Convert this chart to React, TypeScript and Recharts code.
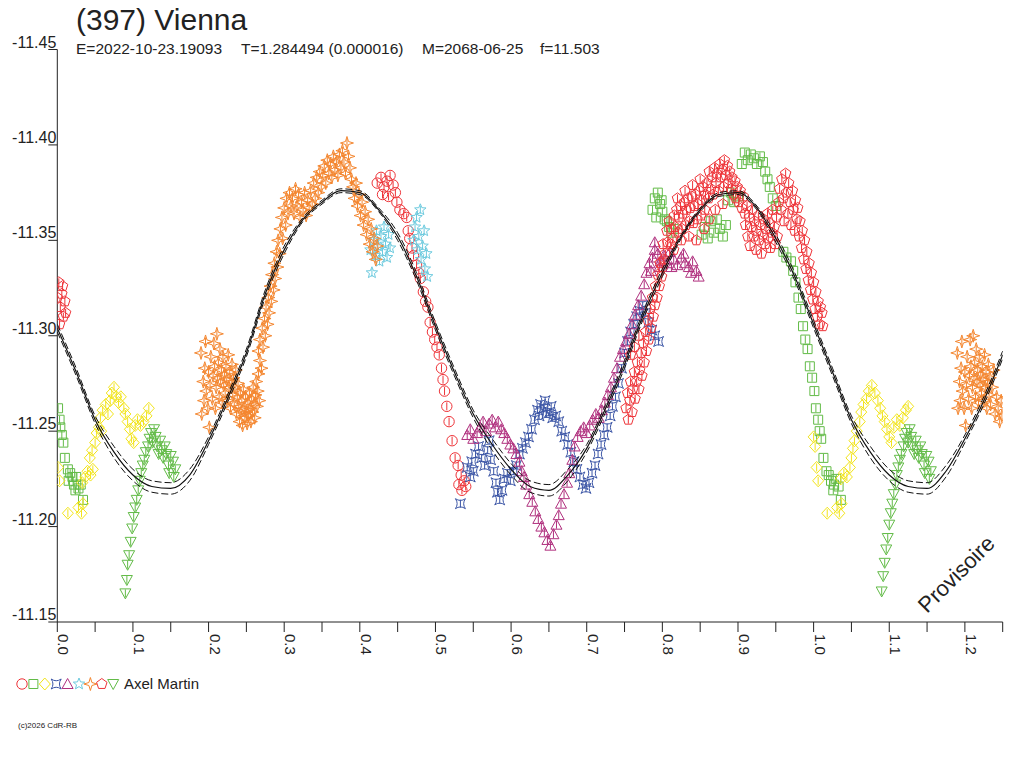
import { ScatterChart, Scatter, XAxis, YAxis } from "recharts";

// phase / reduced magnitude pairs
const redCircle: [number, number][] = [
  [0.423, -11.380], [0.428, -11.383], [0.432, -11.378], [0.436, -11.381], [0.440, -11.384], [0.444, -11.379],
  [0.447, -11.375], [0.430, -11.374], [0.438, -11.373], [0.449, -11.370], [0.453, -11.366], [0.458, -11.364],
  [0.462, -11.362], [0.464, -11.355], [0.466, -11.351], [0.469, -11.346], [0.471, -11.342], [0.475, -11.337],
  [0.478, -11.333], [0.480, -11.330], [0.484, -11.323], [0.487, -11.318], [0.490, -11.315], [0.493, -11.307],
  [0.496, -11.302], [0.499, -11.298], [0.502, -11.294], [0.505, -11.290], [0.508, -11.283], [0.510, -11.277],
  [0.512, -11.271], [0.515, -11.263], [0.518, -11.255], [0.522, -11.245], [0.526, -11.236], [0.530, -11.232],
  [0.534, -11.227], [0.538, -11.224], [0.531, -11.222], [0.540, -11.221], [0.535, -11.219]
];

const greenSquare: [number, number][] = [
  [0.001, -11.262], [0.003, -11.256], [0.004, -11.252], [0.006, -11.248], [0.008, -11.244], [0.010, -11.236],
  [0.014, -11.230], [0.017, -11.228], [0.020, -11.226], [0.015, -11.224], [0.022, -11.222], [0.025, -11.226],
  [0.028, -11.220], [0.024, -11.219], [0.031, -11.222], [0.034, -11.214],
  [0.787, -11.366], [0.790, -11.372], [0.794, -11.375], [0.797, -11.369], [0.800, -11.365], [0.803, -11.361],
  [0.806, -11.360], [0.809, -11.357], [0.812, -11.354], [0.815, -11.356], [0.792, -11.362], [0.799, -11.371],
  [0.852, -11.353], [0.856, -11.357], [0.860, -11.351], [0.864, -11.360], [0.868, -11.354], [0.872, -11.361],
  [0.876, -11.356], [0.880, -11.352], [0.884, -11.358], [0.887, -11.371], [0.891, -11.375], [0.895, -11.370],
  [0.900, -11.373], [0.905, -11.390], [0.909, -11.396], [0.913, -11.392], [0.917, -11.395], [0.921, -11.393],
  [0.925, -11.390], [0.929, -11.394], [0.933, -11.391], [0.936, -11.386], [0.939, -11.382], [0.942, -11.378],
  [0.946, -11.372], [0.950, -11.368], [0.960, -11.344], [0.964, -11.341], [0.970, -11.339], [0.973, -11.334],
  [0.976, -11.328], [0.980, -11.320], [0.983, -11.314], [0.986, -11.305], [0.989, -11.298], [0.992, -11.293],
  [0.995, -11.284], [0.998, -11.278], [1.001, -11.271], [1.003, -11.262], [1.006, -11.256], [1.008, -11.250],
  [1.010, -11.246], [1.013, -11.236], [1.017, -11.229], [1.020, -11.227], [1.023, -11.224], [1.027, -11.222],
  [1.030, -11.225], [1.026, -11.219], [1.033, -11.221], [1.036, -11.214]
];

const yellowDiamond: [number, number][] = [
  [0.001, -11.231], [0.003, -11.224], [0.014, -11.207], [0.028, -11.210], [0.032, -11.207], [0.034, -11.212],
  [0.033, -11.223], [0.037, -11.226], [0.040, -11.229], [0.044, -11.227], [0.047, -11.230], [0.043, -11.236],
  [0.046, -11.240], [0.050, -11.244], [0.052, -11.249], [0.055, -11.252], [0.058, -11.250], [0.057, -11.257],
  [0.060, -11.261], [0.064, -11.264], [0.067, -11.259], [0.070, -11.266], [0.072, -11.270], [0.075, -11.273],
  [0.078, -11.268], [0.081, -11.265], [0.084, -11.268], [0.088, -11.262], [0.090, -11.259], [0.093, -11.255],
  [0.096, -11.251], [0.098, -11.246], [0.101, -11.244], [0.103, -11.253], [0.106, -11.256], [0.110, -11.253],
  [0.114, -11.255], [0.118, -11.258], [0.121, -11.262],
  [1.000, -11.247], [1.002, -11.242], [1.004, -11.231], [1.006, -11.224], [1.018, -11.207], [1.031, -11.210],
  [1.034, -11.207], [1.037, -11.212], [1.036, -11.225], [1.040, -11.228], [1.044, -11.226], [1.048, -11.231],
  [1.050, -11.236], [1.052, -11.241], [1.054, -11.245], [1.057, -11.250], [1.061, -11.255], [1.063, -11.260],
  [1.066, -11.264], [1.070, -11.267], [1.073, -11.271], [1.077, -11.274], [1.081, -11.270], [1.085, -11.266],
  [1.088, -11.262], [1.091, -11.258], [1.094, -11.255], [1.097, -11.251], [1.100, -11.247], [1.103, -11.244],
  [1.106, -11.252], [1.110, -11.256], [1.114, -11.253], [1.118, -11.257], [1.122, -11.261], [1.125, -11.263]
];

const blueStar: [number, number][] = [
  [0.533, -11.212], [0.542, -11.231], [0.546, -11.226], [0.550, -11.229], [0.553, -11.238], [0.557, -11.242],
  [0.561, -11.236], [0.565, -11.232], [0.569, -11.240], [0.573, -11.235], [0.577, -11.229], [0.580, -11.223],
  [0.582, -11.218], [0.585, -11.214], [0.588, -11.219], [0.591, -11.225], [0.595, -11.228], [0.599, -11.224],
  [0.603, -11.229], [0.607, -11.232], [0.611, -11.238], [0.615, -11.241], [0.619, -11.244], [0.623, -11.247],
  [0.627, -11.251], [0.631, -11.256], [0.635, -11.261], [0.639, -11.264], [0.643, -11.262], [0.647, -11.259],
  [0.651, -11.260], [0.655, -11.257], [0.659, -11.258], [0.663, -11.255], [0.667, -11.250], [0.671, -11.247],
  [0.675, -11.243], [0.679, -11.239], [0.683, -11.234], [0.687, -11.230], [0.691, -11.226], [0.695, -11.222],
  [0.699, -11.220], [0.703, -11.223], [0.707, -11.228], [0.711, -11.232], [0.715, -11.238], [0.719, -11.243],
  [0.723, -11.248], [0.727, -11.252], [0.731, -11.258], [0.734, -11.263], [0.738, -11.268], [0.742, -11.275],
  [0.746, -11.283], [0.750, -11.291], [0.754, -11.297], [0.758, -11.302], [0.762, -11.306], [0.766, -11.310],
  [0.770, -11.313], [0.774, -11.316], [0.778, -11.312], [0.782, -11.307], [0.786, -11.303], [0.790, -11.300],
  [0.795, -11.297], [0.637, -11.258], [0.645, -11.266], [0.653, -11.263], [0.571, -11.245], [0.548, -11.234]
];

const purpleTriangle: [number, number][] = [
  [0.542, -11.248], [0.546, -11.251], [0.550, -11.246], [0.555, -11.249], [0.559, -11.252], [0.563, -11.255],
  [0.567, -11.250], [0.571, -11.254], [0.575, -11.256], [0.579, -11.252], [0.583, -11.255], [0.587, -11.251],
  [0.591, -11.249], [0.595, -11.246], [0.599, -11.243], [0.603, -11.241], [0.607, -11.238], [0.611, -11.234],
  [0.614, -11.229], [0.617, -11.226], [0.620, -11.222], [0.624, -11.217], [0.628, -11.213], [0.632, -11.208],
  [0.636, -11.204], [0.640, -11.200], [0.644, -11.197], [0.648, -11.193], [0.652, -11.190], [0.656, -11.196],
  [0.660, -11.201], [0.663, -11.206], [0.666, -11.212], [0.670, -11.217], [0.674, -11.223], [0.677, -11.228],
  [0.681, -11.235], [0.684, -11.242], [0.688, -11.247], [0.692, -11.250], [0.696, -11.252], [0.700, -11.249],
  [0.704, -11.253], [0.708, -11.256], [0.712, -11.259], [0.716, -11.257], [0.720, -11.261], [0.724, -11.265],
  [0.728, -11.269], [0.732, -11.273], [0.736, -11.278], [0.740, -11.283], [0.744, -11.289], [0.748, -11.293],
  [0.752, -11.297], [0.756, -11.301], [0.760, -11.306], [0.764, -11.311], [0.768, -11.316], [0.772, -11.321],
  [0.776, -11.327], [0.779, -11.333], [0.783, -11.338], [0.787, -11.341], [0.790, -11.345], [0.794, -11.343],
  [0.798, -11.339], [0.802, -11.342], [0.806, -11.338], [0.810, -11.344], [0.815, -11.340], [0.820, -11.337],
  [0.825, -11.341], [0.830, -11.338], [0.835, -11.336], [0.840, -11.339], [0.845, -11.334], [0.848, -11.331],
  [0.790, -11.349], [0.785, -11.334], [0.796, -11.336], [0.812, -11.336], [0.828, -11.343], [0.838, -11.333]
];

const cyanStar: [number, number][] = [
  [0.414, -11.345], [0.416, -11.333], [0.418, -11.350], [0.420, -11.342], [0.422, -11.355], [0.424, -11.347],
  [0.426, -11.339], [0.428, -11.352], [0.430, -11.344], [0.432, -11.357], [0.434, -11.348], [0.436, -11.341],
  [0.438, -11.353], [0.440, -11.346], [0.471, -11.350], [0.473, -11.357], [0.475, -11.362], [0.476, -11.345],
  [0.478, -11.352], [0.480, -11.366], [0.481, -11.340], [0.483, -11.347], [0.485, -11.355], [0.486, -11.335],
  [0.488, -11.343], [0.489, -11.331]
];

const orangeStar: [number, number][] = [
  [0.190, -11.291], [0.191, -11.259], [0.193, -11.276], [0.194, -11.266], [0.195, -11.283], [0.196, -11.297],
  [0.197, -11.271], [0.199, -11.262], [0.200, -11.281], [0.201, -11.252], [0.202, -11.274], [0.203, -11.289],
  [0.205, -11.267], [0.206, -11.279], [0.207, -11.296], [0.208, -11.284], [0.209, -11.262], [0.210, -11.273],
  [0.211, -11.301], [0.212, -11.278], [0.213, -11.286], [0.214, -11.268], [0.215, -11.293], [0.216, -11.276],
  [0.217, -11.282], [0.218, -11.265], [0.219, -11.289], [0.220, -11.274], [0.221, -11.280], [0.222, -11.270],
  [0.223, -11.284], [0.224, -11.277], [0.225, -11.266], [0.226, -11.290], [0.227, -11.273], [0.228, -11.281],
  [0.229, -11.262], [0.230, -11.276], [0.231, -11.285], [0.232, -11.269], [0.233, -11.278], [0.234, -11.264],
  [0.235, -11.273], [0.236, -11.282], [0.237, -11.259], [0.238, -11.268], [0.239, -11.275],
  [0.240, -11.263], [0.241, -11.255], [0.242, -11.270], [0.243, -11.260], [0.244, -11.266], [0.245, -11.253],
  [0.246, -11.272], [0.247, -11.262], [0.248, -11.257], [0.249, -11.268], [0.250, -11.260], [0.251, -11.254],
  [0.252, -11.265], [0.253, -11.258], [0.254, -11.270], [0.255, -11.262], [0.256, -11.255], [0.257, -11.267],
  [0.258, -11.260], [0.259, -11.273], [0.260, -11.264], [0.261, -11.257], [0.262, -11.269], [0.263, -11.276],
  [0.264, -11.263], [0.265, -11.271], [0.266, -11.280], [0.267, -11.266], [0.268, -11.287],
  [0.266, -11.292], [0.268, -11.298], [0.270, -11.283], [0.271, -11.304], [0.272, -11.294], [0.274, -11.309],
  [0.275, -11.300], [0.276, -11.315], [0.278, -11.306], [0.279, -11.320], [0.280, -11.312], [0.282, -11.326],
  [0.283, -11.318], [0.284, -11.332], [0.286, -11.324], [0.287, -11.338], [0.288, -11.330], [0.290, -11.344],
  [0.291, -11.336], [0.292, -11.350], [0.294, -11.343], [0.295, -11.356], [0.297, -11.362], [0.298, -11.351],
  [0.300, -11.367], [0.302, -11.358], [0.303, -11.372], [0.305, -11.364], [0.307, -11.375], [0.309, -11.368],
  [0.311, -11.372], [0.313, -11.364], [0.315, -11.377], [0.317, -11.368], [0.319, -11.374], [0.321, -11.362],
  [0.323, -11.370], [0.325, -11.366], [0.327, -11.375], [0.329, -11.363], [0.331, -11.371], [0.333, -11.367],
  [0.335, -11.376], [0.337, -11.369], [0.339, -11.380], [0.341, -11.372], [0.343, -11.383], [0.345, -11.375],
  [0.347, -11.386], [0.349, -11.378], [0.351, -11.384], [0.353, -11.389], [0.355, -11.380], [0.357, -11.392],
  [0.359, -11.385], [0.361, -11.390], [0.363, -11.383], [0.365, -11.394], [0.367, -11.387], [0.369, -11.391],
  [0.371, -11.384], [0.373, -11.395], [0.375, -11.388], [0.377, -11.397], [0.379, -11.391], [0.381, -11.385],
  [0.383, -11.401], [0.385, -11.394], [0.387, -11.388], [0.389, -11.382], [0.391, -11.378], [0.393, -11.372],
  [0.395, -11.380], [0.397, -11.368], [0.399, -11.374], [0.401, -11.363], [0.403, -11.370], [0.405, -11.358],
  [0.407, -11.365], [0.409, -11.353], [0.411, -11.361], [0.413, -11.348], [0.415, -11.356], [0.417, -11.344],
  [0.419, -11.351], [0.421, -11.340], [0.423, -11.347],
  [1.190, -11.291], [1.191, -11.262], [1.193, -11.276], [1.194, -11.266], [1.195, -11.283], [1.196, -11.297],
  [1.197, -11.271], [1.199, -11.262], [1.200, -11.281], [1.201, -11.253], [1.202, -11.274], [1.203, -11.289],
  [1.205, -11.267], [1.206, -11.279], [1.207, -11.298], [1.208, -11.284], [1.209, -11.262], [1.210, -11.273],
  [1.211, -11.300], [1.212, -11.278], [1.213, -11.286], [1.214, -11.268], [1.215, -11.293], [1.216, -11.276],
  [1.217, -11.282], [1.218, -11.265], [1.219, -11.289], [1.220, -11.274], [1.221, -11.280], [1.222, -11.270],
  [1.223, -11.284], [1.224, -11.277], [1.225, -11.266], [1.226, -11.290], [1.227, -11.273], [1.228, -11.281],
  [1.229, -11.262], [1.230, -11.276], [1.231, -11.285], [1.232, -11.269], [1.233, -11.278], [1.234, -11.264],
  [1.236, -11.273], [1.238, -11.282], [1.240, -11.259], [1.242, -11.268], [1.244, -11.262], [1.246, -11.255],
  [1.248, -11.266], [1.249, -11.258]
];

const redPentagon: [number, number][] = [
  [0.000, -11.320], [0.002, -11.328], [0.004, -11.315], [0.006, -11.322], [0.008, -11.310], [0.010, -11.318],
  [0.003, -11.306], [0.007, -11.326], [0.011, -11.312],
  [0.752, -11.262], [0.754, -11.270], [0.755, -11.256], [0.757, -11.266], [0.758, -11.276], [0.760, -11.260],
  [0.761, -11.272], [0.763, -11.281], [0.764, -11.267], [0.766, -11.276], [0.767, -11.286], [0.769, -11.272],
  [0.770, -11.282], [0.772, -11.291], [0.773, -11.279], [0.775, -11.296], [0.776, -11.286], [0.778, -11.302],
  [0.779, -11.292], [0.781, -11.308], [0.782, -11.298], [0.784, -11.314], [0.785, -11.304], [0.787, -11.320],
  [0.788, -11.310], [0.790, -11.316], [0.791, -11.326], [0.793, -11.320], [0.794, -11.332], [0.796, -11.326],
  [0.797, -11.338], [0.799, -11.331], [0.802, -11.340], [0.758, -11.290], [0.763, -11.294], [0.769, -11.300],
  [0.800, -11.336], [0.801, -11.348], [0.804, -11.343], [0.806, -11.355], [0.807, -11.349], [0.809, -11.360],
  [0.811, -11.348], [0.812, -11.356], [0.814, -11.351], [0.816, -11.363], [0.817, -11.357], [0.819, -11.366],
  [0.821, -11.354], [0.822, -11.362], [0.824, -11.368], [0.826, -11.356], [0.827, -11.364], [0.829, -11.370],
  [0.831, -11.358], [0.832, -11.366], [0.834, -11.372], [0.836, -11.360], [0.837, -11.367], [0.839, -11.373],
  [0.841, -11.359], [0.842, -11.368], [0.844, -11.374], [0.846, -11.361], [0.847, -11.369], [0.849, -11.376],
  [0.851, -11.363], [0.852, -11.371], [0.854, -11.378], [0.856, -11.366], [0.857, -11.374],
  [0.815, -11.345], [0.825, -11.350], [0.835, -11.352], [0.845, -11.350], [0.855, -11.356], [0.862, -11.361],
  [0.830, -11.376], [0.850, -11.382], [0.840, -11.379], [0.820, -11.372], [0.870, -11.366], [0.880, -11.369],
  [0.859, -11.380], [0.861, -11.372], [0.862, -11.386], [0.864, -11.377], [0.866, -11.383], [0.867, -11.374],
  [0.869, -11.388], [0.871, -11.380], [0.872, -11.385], [0.874, -11.376], [0.876, -11.390], [0.877, -11.383],
  [0.879, -11.387], [0.881, -11.378], [0.882, -11.392], [0.884, -11.384], [0.886, -11.389], [0.887, -11.380],
  [0.889, -11.386], [0.891, -11.377], [0.892, -11.383], [0.894, -11.374], [0.896, -11.381], [0.897, -11.372],
  [0.899, -11.378], [0.901, -11.370], [0.903, -11.376], [0.905, -11.367], [0.907, -11.373], [0.909, -11.364],
  [0.910, -11.358], [0.912, -11.368], [0.913, -11.352], [0.915, -11.362], [0.916, -11.347], [0.918, -11.357],
  [0.919, -11.366], [0.921, -11.352], [0.922, -11.360], [0.924, -11.345], [0.925, -11.355], [0.927, -11.363],
  [0.928, -11.350], [0.930, -11.358], [0.931, -11.343], [0.933, -11.353], [0.934, -11.361], [0.936, -11.348],
  [0.937, -11.356], [0.939, -11.364], [0.940, -11.351], [0.942, -11.359], [0.943, -11.346], [0.945, -11.354],
  [0.946, -11.366], [0.948, -11.357], [0.949, -11.348], [0.951, -11.362], [0.952, -11.352], [0.954, -11.370],
  [0.955, -11.377], [0.957, -11.366], [0.958, -11.382], [0.960, -11.372], [0.961, -11.360], [0.963, -11.385],
  [0.964, -11.375], [0.966, -11.364], [0.967, -11.380], [0.969, -11.370], [0.970, -11.358], [0.972, -11.376],
  [0.973, -11.366], [0.975, -11.355], [0.976, -11.371], [0.978, -11.361], [0.979, -11.367], [0.981, -11.352],
  [0.982, -11.360], [0.984, -11.346], [0.985, -11.355], [0.987, -11.340], [0.988, -11.350], [0.990, -11.335],
  [0.991, -11.344], [0.993, -11.329], [0.994, -11.338], [0.996, -11.324], [0.997, -11.333], [0.999, -11.319],
  [1.000, -11.328], [1.002, -11.314], [1.003, -11.323], [1.005, -11.310], [1.006, -11.318], [1.008, -11.306],
  [1.009, -11.315], [1.011, -11.312], [1.012, -11.305]
];

const greenDown: [number, number][] = [
  [0.090, -11.165], [0.092, -11.172], [0.093, -11.180], [0.095, -11.185], [0.097, -11.192], [0.099, -11.199],
  [0.101, -11.205], [0.103, -11.210], [0.105, -11.214], [0.107, -11.219], [0.109, -11.224], [0.111, -11.228],
  [0.113, -11.232], [0.115, -11.235], [0.117, -11.239], [0.120, -11.242], [0.122, -11.246], [0.124, -11.249],
  [0.126, -11.244], [0.128, -11.251], [0.130, -11.247], [0.132, -11.242], [0.134, -11.238], [0.136, -11.245],
  [0.138, -11.240], [0.140, -11.236], [0.142, -11.242], [0.144, -11.238], [0.147, -11.232], [0.150, -11.237],
  [0.153, -11.234], [0.156, -11.230], [0.154, -11.226], [0.148, -11.228],
  [1.090, -11.166], [1.092, -11.174], [1.094, -11.181], [1.096, -11.188], [1.098, -11.194], [1.100, -11.201],
  [1.102, -11.207], [1.104, -11.212], [1.106, -11.217], [1.108, -11.222], [1.110, -11.227], [1.112, -11.231],
  [1.114, -11.235], [1.116, -11.238], [1.119, -11.242], [1.121, -11.246], [1.123, -11.249], [1.125, -11.244],
  [1.127, -11.251], [1.129, -11.247], [1.131, -11.242], [1.133, -11.238], [1.135, -11.245], [1.137, -11.240],
  [1.139, -11.236], [1.141, -11.242], [1.143, -11.238], [1.146, -11.232], [1.149, -11.237], [1.152, -11.234],
  [1.155, -11.229], [1.153, -11.225], [1.147, -11.228]
];

// fitted lightcurve and its two bounds
const fitPhase = [
  0.000, 0.025, 0.050, 0.075, 0.100, 0.125, 0.150, 0.175, 0.200, 0.225, 0.250, 0.275, 0.300, 0.325, 0.350, 0.375,
  0.400, 0.425, 0.450, 0.475, 0.500, 0.525, 0.550, 0.575, 0.600, 0.625, 0.650, 0.675, 0.700, 0.725, 0.750, 0.775,
  0.800, 0.825, 0.850, 0.875, 0.900, 0.925, 0.950, 0.975, 1.000, 1.025, 1.050, 1.075, 1.100, 1.125, 1.150, 1.175,
  1.200, 1.225, 1.250
];
const fitMag = [
  -11.304, -11.281, -11.256, -11.239, -11.227, -11.221, -11.220, -11.227, -11.245, -11.267, -11.291, -11.322,
  -11.345, -11.361, -11.370, -11.376, -11.375, -11.366, -11.352, -11.331, -11.305, -11.281, -11.259, -11.243,
  -11.230, -11.221, -11.219, -11.227, -11.241, -11.262, -11.285, -11.311, -11.333, -11.352, -11.366, -11.374,
  -11.375, -11.367, -11.351, -11.331, -11.306, -11.281, -11.256, -11.239, -11.227, -11.221, -11.220, -11.229,
  -11.246, -11.266, -11.290
];
const fitHi = [
  -11.306, -11.283, -11.258, -11.242, -11.230, -11.224, -11.223, -11.230, -11.247, -11.269, -11.293, -11.324,
  -11.347, -11.362, -11.371, -11.377, -11.376, -11.367, -11.354, -11.333, -11.307, -11.283, -11.261, -11.246,
  -11.233, -11.224, -11.222, -11.230, -11.243, -11.264, -11.287, -11.313, -11.335, -11.353, -11.367, -11.375,
  -11.376, -11.368, -11.353, -11.333, -11.308, -11.283, -11.258, -11.242, -11.230, -11.224, -11.223, -11.232,
  -11.248, -11.268, -11.292
];
const fitLo = [
  -11.302, -11.279, -11.254, -11.236, -11.224, -11.218, -11.217, -11.224, -11.243, -11.265, -11.289, -11.320,
  -11.343, -11.360, -11.369, -11.375, -11.374, -11.365, -11.350, -11.329, -11.303, -11.279, -11.257, -11.240,
  -11.227, -11.218, -11.216, -11.224, -11.239, -11.260, -11.283, -11.309, -11.331, -11.351, -11.365, -11.373,
  -11.374, -11.366, -11.349, -11.329, -11.304, -11.279, -11.254, -11.236, -11.224, -11.218, -11.217, -11.226,
  -11.244, -11.264, -11.288
];

const yTicks = [-11.45, -11.4, -11.35, -11.3, -11.25, -11.2, -11.15];
const xTicks = [
  0, 0.05, 0.1, 0.15, 0.2, 0.25, 0.3, 0.35, 0.4, 0.45, 0.5, 0.55, 0.6, 0.65, 0.7, 0.75, 0.8, 0.85, 0.9, 0.95,
  1.0, 1.05, 1.1, 1.15, 1.2, 1.25
];
const xLabels = ["0.0", "", "0.1", "", "0.2", "", "0.3", "", "0.4", "", "0.5", "", "0.6", "", "0.7", "", "0.8", "",
  "0.9", "", "1.0", "", "1.1", "", "1.2", ""];

const FONT = "'Liberation Sans', Arial, sans-serif";
const INK = "#222";

const COLORS = {
  red: "#ee3338",
  green: "#62bb47",
  yellow: "#f2e41a",
  blue: "#3b55a6",
  purple: "#b0307e",
  cyan: "#6ccade",
  orange: "#f4862f"
};

type Kind = "circle" | "square" | "diamond" | "astroid" | "triangle" | "star5" | "star4" | "pentagon" | "down";

const PATHS: Record<Kind, string> = {
  circle: "",
  square: "M-4.5,-4.5 L4.5,-4.5 L4.5,4.5 L-4.5,4.5 Z",
  diamond: "M0,-6 L5.5,0 L0,6 L-5.5,0 Z",
  astroid: "M-5,-5 Q0,-1.5 5,-5 Q1.5,0 5,5 Q0,1.5 -5,5 Q-1.5,0 -5,-5 Z",
  triangle: "M0,-5.5 L5.5,4.5 L-5.5,4.5 Z",
  star5: "M0,-6 L1.53,-2.1 L5.71,-1.85 L2.47,0.8 L3.53,4.85 L0,2.6 L-3.53,4.85 L-2.47,0.8 L-5.71,-1.85 L-1.53,-2.1 Z",
  star4: "M0,-6.5 L1.5,-1.5 L6.5,0 L1.5,1.5 L0,6.5 L-1.5,1.5 L-6.5,0 L-1.5,-1.5 Z",
  pentagon: "M0,-5.5 L5.23,-1.7 L3.23,4.45 L-3.23,4.45 L-5.23,-1.7 Z",
  down: "M0,5.5 L5.5,-4.5 L-5.5,-4.5 Z"
};

function Marker({ kind, color, cx, cy, bar = true }: { kind: Kind; color: string; cx: number; cy: number; bar?: boolean }) {
  if (cx == null || cy == null) return null;
  return (
    <g transform={`translate(${cx},${cy})`} fill="none" stroke={color} strokeWidth={1}>
      {kind === "circle" ? <circle r={5.2} /> : <path d={PATHS[kind]} />}
      {bar && <line x1={0} y1={-4} x2={0} y2={4} />}
    </g>
  );
}

const toPoints = (rows: [number, number][]) => rows.map(([x, y]) => ({ x, y }));
const fitLine = (mags: number[]) => fitPhase.map((x, i) => ({ x, y: mags[i] }));

const series: { name: string; rows: [number, number][]; kind: Kind; color: string }[] = [
  { name: "circle", rows: redCircle, kind: "circle", color: COLORS.red },
  { name: "square", rows: greenSquare, kind: "square", color: COLORS.green },
  { name: "diamond", rows: yellowDiamond, kind: "diamond", color: COLORS.yellow },
  { name: "astroid", rows: blueStar, kind: "astroid", color: COLORS.blue },
  { name: "triangle", rows: purpleTriangle, kind: "triangle", color: COLORS.purple },
  { name: "star5", rows: cyanStar, kind: "star5", color: COLORS.cyan },
  { name: "star4", rows: orangeStar, kind: "star4", color: COLORS.orange },
  { name: "pentagon", rows: redPentagon, kind: "pentagon", color: COLORS.red },
  { name: "down", rows: greenDown, kind: "down", color: COLORS.green }
];

function YTick(props: any) {
  const { x, y, payload } = props;
  return (
    <g>
      <line x1={x - 9} y1={y} x2={x} y2={y} stroke={INK} />
      <text x={x - 1} y={y - 2} textAnchor="end" fontSize={16} fontFamily={FONT} fill={INK}>
        {payload.value.toFixed(2)}
      </text>
    </g>
  );
}

function XTick(props: any) {
  const { x, y, index } = props;
  const label = xLabels[index];
  return (
    <g>
      <line x1={x} y1={y} x2={x} y2={y + 10} stroke={INK} />
      {label && (
        <text
          x={x + 1}
          y={y + 12}
          transform={`rotate(90 ${x + 1} ${y + 12})`}
          textAnchor="start"
          fontSize={15}
          fontFamily={FONT}
          fill={INK}
        >
          {label}
        </text>
      )}
    </g>
  );
}

export default function App() {
  return (
    <div style={{ position: "absolute", left: 0, top: 0, width: 1024, height: 768, background: "#fff" }}>
      <ScatterChart width={1024} height={768} margin={{ top: 49.5, right: 21.3, bottom: 106, left: 7.3 }}>
        <XAxis
          type="number"
          dataKey="x"
          domain={[0, 1.25]}
          ticks={xTicks}
          interval={0}
          height={40}
          tickSize={0}
          tickMargin={0}
          tickLine={false}
          axisLine={{ stroke: INK }}
          tick={<XTick />}
          allowDataOverflow
        />
        <YAxis
          type="number"
          dataKey="y"
          domain={[-11.45, -11.15]}
          reversed
          ticks={yTicks}
          interval={0}
          width={50}
          tickSize={0}
          tickMargin={0}
          tickLine={false}
          axisLine={{ stroke: INK }}
          tick={<YTick />}
          allowDataOverflow
        />
        {series.map((s) => (
          <Scatter
            key={s.name}
            data={toPoints(s.rows)}
            isAnimationActive={false}
            shape={(p: any) => <Marker kind={s.kind} color={s.color} cx={p.cx} cy={p.cy} />}
          />
        ))}
        <Scatter
          data={fitLine(fitHi)}
          isAnimationActive={false}
          line={{ stroke: "#111", strokeWidth: 1, strokeDasharray: "7 3" }}
          lineJointType="monotoneX"
          shape={() => <g />}
        />
        <Scatter
          data={fitLine(fitLo)}
          isAnimationActive={false}
          line={{ stroke: "#111", strokeWidth: 1, strokeDasharray: "7 3" }}
          lineJointType="monotoneX"
          shape={() => <g />}
        />
        <Scatter
          data={fitLine(fitMag)}
          isAnimationActive={false}
          line={{ stroke: "#111", strokeWidth: 1.2 }}
          lineJointType="monotoneX"
          shape={() => <g />}
        />
      </ScatterChart>

      <svg width={1024} height={768} style={{ position: "absolute", left: 0, top: 0, pointerEvents: "none" }}>
        <text x={76} y={30} fontSize={30} fontFamily={FONT} fill={INK}>(397) Vienna</text>
        <g fontSize={15.5} fontFamily={FONT} fill={INK}>
          <text x={76} y={54}>E=2022-10-23.19093</text>
          <text x={241} y={54}>T=1.284494 (0.000016)</text>
          <text x={422} y={54}>M=2068-06-25</text>
          <text x={540} y={54}>f=11.503</text>
        </g>
        {series.map((s, i) => (
          <Marker key={s.name} kind={s.kind} color={s.color} cx={22 + i * 11.4} cy={684} bar={false} />
        ))}
        <text x={124} y={689} fontSize={15} fontFamily={FONT} fill={INK}>Axel Martin</text>
        <text x={18} y={728} fontSize={8} fontFamily={FONT} fill={INK}>(c)2026 CdR-RB</text>
        <text x={927} y={614} transform="rotate(-45 927 614)" fontSize={22} fontFamily={FONT} fill={INK}>Provisoire</text>
      </svg>
    </div>
  );
}
